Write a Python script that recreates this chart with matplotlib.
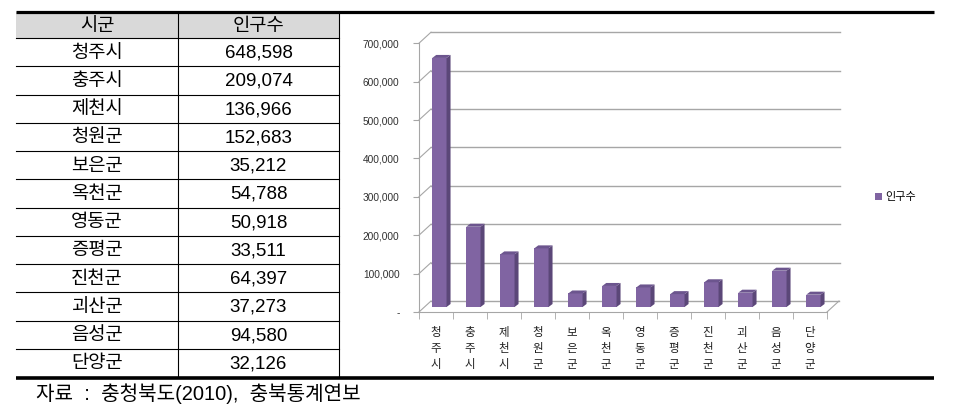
import numpy as np
import matplotlib
matplotlib.use("Agg")
import matplotlib.pyplot as plt
from matplotlib.patches import Polygon, Rectangle

plt.rcParams['font.family'] = ['Liberation Sans', 'Noto Sans CJK KR', 'DejaVu Sans']

# ---- data ----
regions = ['청주시', '충주시', '제천시', '청원군', '보은군', '옥천군',
           '영동군', '증평군', '진천군', '괴산군', '음성군', '단양군']
population = [648598, 209074, 136966, 152683, 35212, 54788,
              50918, 33511, 64397, 37273, 94580, 32126]
header = ['시군', '인구수']
series_name = '인구수'
yticks = [0, 100000, 200000, 300000, 400000, 500000, 600000, 700000]
source = '자료  :  충청북도(2010),  충북통계연보'

W, H = 954, 412
fig = plt.figure(figsize=(W / 100, H / 100), dpi=100)

# ---- background axes in pixel coords (table) ----
bg = fig.add_axes([0, 0, 1, 1])
bg.set_xlim(0, W)
bg.set_ylim(H, 0)
bg.axis('off')

tx0, tmid, tx1 = 16, 178, 339
ty0, thead = 12, 38
row_h = (377 - thead) / len(regions)

bg.add_patch(Rectangle((tx0, ty0), tx1 - tx0, thead - ty0, facecolor='#D9D9D9',
                       edgecolor='none', zorder=0))
bg.plot([tx0, 934], [11.5, 11.5], color='black', lw=2.3, solid_capstyle='butt')
bg.plot([tx0, 934], [378, 378], color='black', lw=2.6, solid_capstyle='butt')
bg.plot([tx0, tx1], [thead, thead], color='black', lw=0.8)
for i in range(1, len(regions)):
    y = thead + i * row_h
    bg.plot([tx0, tx1], [y, y], color='black', lw=0.8)
bg.plot([tmid, tmid], [ty0, 377], color='black', lw=0.8)
bg.plot([tx1, tx1], [ty0, 377], color='black', lw=0.8)

c1, c2 = (tx0 + tmid) / 2, (tmid + tx1) / 2
fs_tab = 13.5
bg.text(c1, (ty0 + thead) / 2 + 1, header[0], ha='center', va='center', fontsize=fs_tab)
bg.text(c2, (ty0 + thead) / 2 + 1, header[1], ha='center', va='center', fontsize=fs_tab)
for i, (r, p) in enumerate(zip(regions, population)):
    yc = thead + (i + 0.5) * row_h + 1
    bg.text(c1, yc, r, ha='center', va='center', fontsize=fs_tab)
    bg.text(c2, yc, f'{p:,}', ha='center', va='center', fontsize=fs_tab)

bg.text(36, 394, source, ha='left', va='center', fontsize=14.5)

# ---- chart axes ----
px_cat = 34.0
px_100k = 38.4
ax_l, ax_r = 419, 840
y0_px = 312
ymax = 730000
ax_h = ymax / 100000 * px_100k
ax = fig.add_axes([ax_l / W, (H - y0_px) / H, (ax_r - ax_l) / W, ax_h / H])
xmax = (ax_r - ax_l) / px_cat
ax.set_xlim(0, xmax)
ax.set_ylim(0, ymax)
ax.patch.set_alpha(0)

n = len(regions)
dx = 12 / px_cat
dy = 11 / px_100k * 100000
gc = '#A6A6A6'

# back wall gridlines and left wall diagonals
for v in yticks[1:]:
    ax.plot([dx, xmax], [v + dy, v + dy], color=gc, lw=1.0, zorder=0.5, clip_on=False)
    ax.plot([0, dx], [v, v + dy], color=gc, lw=0.8, zorder=0.5, clip_on=False)
# floor
ax.plot([dx, n + dx], [dy, dy], color=gc, lw=1.0, zorder=0.5, clip_on=False)
ax.plot([0, dx], [0, dy], color=gc, lw=0.8, zorder=0.5, clip_on=False)
ax.plot([n, n + dx], [0, dy], color=gc, lw=0.8, zorder=0.5, clip_on=False)

# bars with 3D faces
front_c, side_c, top_c = '#8064A2', '#5B4778', '#6C558E'
bar_bottom = 5 / px_100k * 100000
sx = 4 / px_cat
sy = 3 / px_100k * 100000
bars = ax.bar(np.arange(n) + 0.6, population, width=0.42, bottom=bar_bottom,
              color=front_c, edgecolor='none', zorder=2, label=series_name)
for rect in bars:
    x, y = rect.get_x(), rect.get_y()
    w, h = rect.get_width(), rect.get_height()
    side = Polygon([(x + w, y), (x + w + sx, y + sy), (x + w + sx, y + h + sy), (x + w, y + h)],
                   closed=True, facecolor=side_c, edgecolor='none', zorder=2)
    top = Polygon([(x, y + h), (x + w, y + h), (x + w + sx, y + h + sy), (x + sx, y + h + sy)],
                  closed=True, facecolor=top_c, edgecolor='none', zorder=2)
    ax.add_patch(side)
    ax.add_patch(top)

# spines
for s in ['top', 'right']:
    ax.spines[s].set_visible(False)
ax.spines['left'].set_color(gc)
ax.spines['left'].set_bounds(0, 700000)
ax.spines['bottom'].set_color(gc)
ax.spines['bottom'].set_bounds(0, n)

ax.set_yticks(yticks)
ax.set_yticklabels(['-' if v == 0 else f'{v:,}' for v in yticks])
ax.tick_params(axis='y', length=4, color=gc, pad=10, labelsize=7.3, labelcolor='#303030')

ax.set_xticks(np.arange(n) + 0.5)
ax.set_xticklabels(['\n'.join(r) for r in regions], fontsize=8.3, linespacing=1.3,
                   color='#202020', family=['Noto Sans CJK KR'])
ax.set_xticks(np.arange(n + 1), minor=True)
ax.tick_params(axis='x', which='major', length=0, pad=10)
ax.tick_params(axis='x', which='minor', length=5, color=gc)

ax.legend(handles=[bars], labels=[series_name], loc='center left',
          bbox_to_anchor=(875 / W, 1 - 197 / H), bbox_transform=fig.transFigure,
          frameon=False, fontsize=8, handlelength=0.6, handleheight=0.6,
          handletextpad=0.3, borderpad=0, borderaxespad=0)

fig.savefig('out.png', dpi=100)
